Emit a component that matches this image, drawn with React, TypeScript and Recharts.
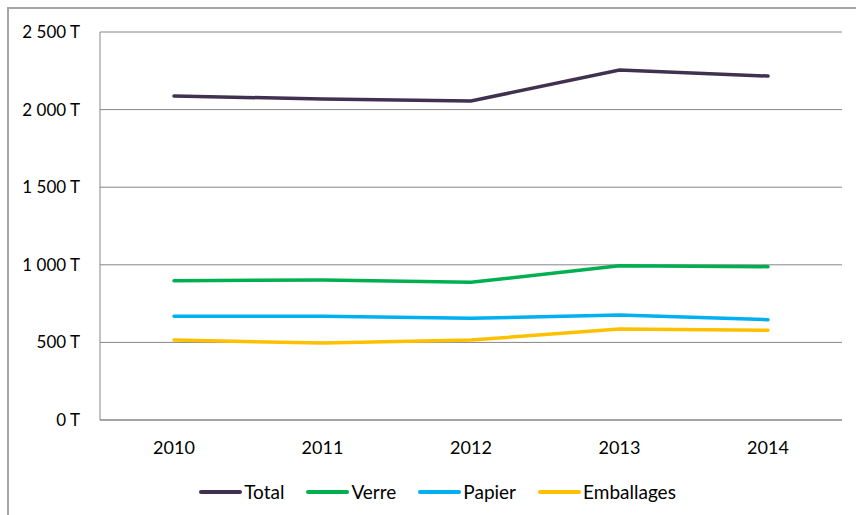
import { CartesianGrid, Legend, Line, LineChart, XAxis, YAxis } from "recharts";

const years = ["2010", "2011", "2012", "2013", "2014"];
const total = [2088, 2068, 2055, 2255, 2216];
const verre = [897, 902, 887, 994, 988];
const papier = [668, 668, 655, 676, 646];
const emballages = [515, 496, 515, 586, 578];
const yTicks = [0, 500, 1000, 1500, 2000, 2500];

const data = years.map((year, i) => ({
  year,
  Total: total[i],
  Verre: verre[i],
  Papier: papier[i],
  Emballages: emballages[i],
}));

const series = [
  { key: "Total", color: "#403151" },
  { key: "Verre", color: "#00B050" },
  { key: "Papier", color: "#00B0F0" },
  { key: "Emballages", color: "#FFC000" },
];

const font = "Lato, 'Open Sans', sans-serif";

function formatTonnes(value: number): string {
  return String(value).replace(/\B(?=(\d{3})+(?!\d))/g, " ") + " T";
}

type LegendItem = { value?: string; color?: string };

function ExcelLegend({ payload }: { payload?: LegendItem[] }) {
  const items = [...(payload ?? [])].sort(
    (a, b) =>
      series.findIndex((s) => s.key === a.value) -
      series.findIndex((s) => s.key === b.value)
  );
  return (
    <div
      style={{
        display: "flex",
        justifyContent: "center",
        alignItems: "center",
        gap: 22,
        paddingLeft: 13,
        fontFamily: font,
        fontSize: 19,
        color: "#000",
      }}
    >
      {items.map((item) => (
        <div key={item.value} style={{ display: "flex", alignItems: "center" }}>
          <svg width={43} height={6} style={{ marginRight: 2 }}>
            <line
              x1={2}
              y1={3}
              x2={41}
              y2={3}
              stroke={item.color}
              strokeWidth={4}
              strokeLinecap="round"
            />
          </svg>
          <span>{item.value}</span>
        </div>
      ))}
    </div>
  );
}

export default function App() {
  if (typeof document !== "undefined") document.body.style.margin = "0";

  return (
    <div
      style={{
        position: "fixed",
        left: 0,
        top: 0,
        width: 856,
        height: 515,
        background: "#fff",
        fontFamily: font,
      }}
    >
      <div
        style={{
          position: "absolute",
          left: 7,
          top: 7,
          width: 860,
          height: 520,
          border: "2px solid #a6a6a6",
          boxSizing: "border-box",
        }}
      />
      <div style={{ position: "absolute", left: 0, top: 0 }}>
        <LineChart
          width={856}
          height={515}
          data={data}
          margin={{ top: 32, right: 14, bottom: 5, left: 20 }}
        >
          <CartesianGrid stroke="#868686" vertical={false} />
          <XAxis
            dataKey="year"
            height={60}
            padding={{ left: 74, right: 74 }}
            tickLine={false}
            tickSize={0}
            tickMargin={21}
            stroke="#868686"
            tick={{ fill: "#000", fontSize: 18, fontFamily: font }}
          />
          <YAxis
            domain={[0, 2500]}
            ticks={yTicks}
            width={80}
            tickLine={false}
            tickSize={0}
            tickMargin={20}
            stroke="#868686"
            tickFormatter={formatTonnes}
            tick={{ fill: "#000", fontSize: 17, fontFamily: font }}
          />
          <Legend verticalAlign="bottom" height={30} content={<ExcelLegend />} />
          {series.map((s) => (
            <Line
              key={s.key}
              type="linear"
              dataKey={s.key}
              stroke={s.color}
              strokeWidth={3.5}
              strokeLinecap="round"
              dot={false}
              activeDot={false}
              isAnimationActive={false}
            />
          ))}
        </LineChart>
      </div>
    </div>
  );
}
